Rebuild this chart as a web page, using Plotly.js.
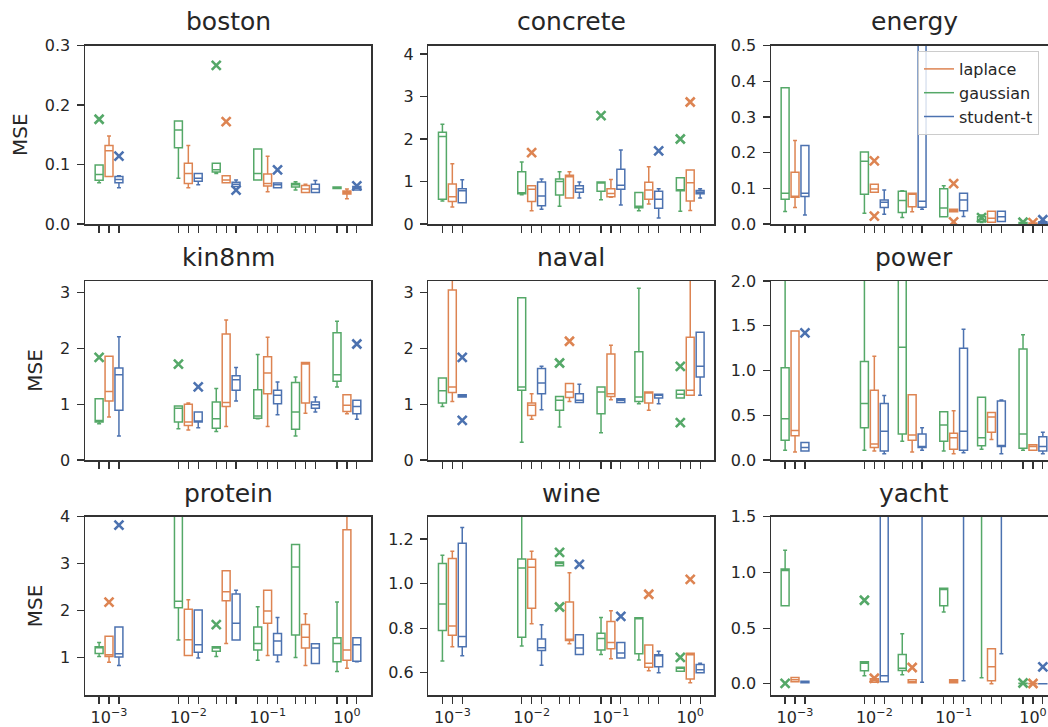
<!DOCTYPE html>
<html><head><meta charset="utf-8">
<script src="https://cdn.plot.ly/plotly-3.0.1.min.js"></script>
<style>html,body{margin:0;padding:0;background:#fff}</style>
</head><body><div id="chart" style="width:1048px;height:727px"></div>
<script>
// ---------------- DATA ----------------
const noiseLevels = [0.001, 0.01, 0.03, 0.1, 0.3, 1];
const decadeLabels = {'-3':'10<sup>−3</sup>','-2':'10<sup>−2</sup>','-1':'10<sup>−1</sup>','0':'10<sup>0</sup>'};
const seriesNames = ['laplace', 'gaussian', 'student-t'];
const datasetNames = ['boston','concrete','energy','kin8nm','naval','power','protein','wine','yacht'];

// each entry: [lower whisker, q1, median, q3, upper whisker] per noise level
const boston_laplace  = [[0.080,0.080,0.123,0.132,0.148],[0.061,0.068,0.085,0.102,0.132],[0.0695,0.0695,0.074,0.081,0.081],[0.054,0.064,0.068,0.084,0.114],[0.053,0.053,0.059,0.0645,0.067],[0.0425,0.0505,0.053,0.0555,0.059]];
const boston_gaussian = [[0.0695,0.0735,0.083,0.0993,0.0993],[0.077,0.128,0.158,0.173,0.173],[0.085,0.0875,0.091,0.102,0.102],[0.074,0.074,0.085,0.126,0.126],[0.057,0.062,0.066,0.068,0.071],[0.0595,0.0598,0.061,0.062,0.062]];
const boston_student  = [[0.061,0.0695,0.075,0.0797,0.081],[0.066,0.072,0.077,0.085,0.085],[0.063,0.063,0.067,0.070,0.074],[0.061,0.061,0.066,0.069,0.069],[0.053,0.053,0.059,0.067,0.073],[0.057,0.057,0.060,0.063,0.063]];
const boston_out_laplace  = [[2,0.172]];
const boston_out_gaussian = [[0,0.176],[2,0.2665]];
const boston_out_student  = [[0,0.114],[2,0.057],[3,0.091],[5,0.064]];

const concrete_laplace  = [[0.40,0.53,0.64,0.94,1.42],[0.31,0.53,0.82,0.90,0.90],[0.61,0.61,1.11,1.15,1.23],[0.63,0.64,0.72,0.83,1.05],[0.47,0.58,0.80,0.98,1.35],[0.32,0.54,0.97,1.27,1.27]];
const concrete_gaussian = [[0.54,0.58,2.06,2.16,2.35],[0.69,0.71,0.72,1.23,1.46],[0.42,0.68,1.00,1.06,1.23],[0.57,0.77,0.99,0.99,0.99],[0.31,0.38,0.42,0.74,0.74],[0.30,0.78,0.80,1.09,1.09]];
const concrete_student  = [[0.50,0.50,0.78,0.83,1.04],[0.35,0.43,0.66,0.99,1.06],[0.61,0.75,0.83,0.90,0.99],[0.45,0.82,0.91,1.29,1.74],[0.14,0.37,0.58,0.77,0.83],[0.61,0.71,0.75,0.79,0.83]];
const concrete_out_laplace  = [[1,1.68],[5,2.87]];
const concrete_out_gaussian = [[3,2.55],[5,2.0]];
const concrete_out_student  = [[4,1.72]];

const energy_laplace  = [[0.046,0.075,0.077,0.145,0.234],[0.089,0.089,0.098,0.111,0.111],[0.034,0.048,0.083,0.086,0.086],[0.034,0.034,0.037,0.041,0.041],[0.005,0.005,0.016,0.036,0.036],[0.001,0.002,0.002,0.003,0.003]];
const energy_gaussian = [[0.035,0.069,0.086,0.382,0.382],[0.030,0.083,0.176,0.202,0.202],[0.018,0.032,0.066,0.092,0.093],[0.020,0.020,0.045,0.099,0.107],[0.004,0.006,0.012,0.020,0.025],[0.001,0.002,0.003,0.004,0.005]];
const energy_student  = [[0.025,0.077,0.086,0.220,0.220],[0.027,0.046,0.061,0.067,0.095],[0.041,0.047,0.064,0.800,1.200],[0.021,0.037,0.067,0.086,0.086],[0.007,0.007,0.020,0.036,0.036],[0.002,0.003,0.004,0.006,0.008]];
const energy_out_laplace  = [[1,0.177],[1,0.022],[3,0.113],[3,0.006],[5,0.004]];
const energy_out_gaussian = [[4,0.018],[5,0.005]];
const energy_out_student  = [[5,0.012]];

const kin8nm_laplace  = [[0.77,1.06,1.23,1.86,1.86],[0.54,0.62,0.68,1.00,1.02],[0.60,0.96,1.03,2.26,2.51],[0.60,1.19,1.56,1.85,2.20],[0.84,1.02,1.72,1.75,1.75],[0.83,0.87,0.98,1.17,1.17]];
const kin8nm_gaussian = [[0.65,0.68,0.71,1.10,1.10],[0.56,0.68,0.93,0.97,0.97],[0.51,0.57,0.74,1.04,1.28],[0.74,0.75,0.79,1.26,1.89],[0.43,0.55,0.86,1.39,1.49],[1.31,1.41,1.53,2.28,2.49]];
const kin8nm_student  = [[0.43,0.89,1.53,1.65,2.21],[0.58,0.68,0.68,0.86,0.86],[1.06,1.25,1.44,1.51,1.66],[0.81,1.01,1.16,1.25,1.40],[0.86,0.93,0.99,1.04,1.13],[0.73,0.83,0.96,1.07,1.07]];
const kin8nm_out_laplace  = [];
const kin8nm_out_gaussian = [[0,1.84],[1,1.72]];
const kin8nm_out_student  = [[1,1.31],[5,2.08]];

const naval_laplace  = [[1.05,1.21,1.31,3.05,3.40],[0.73,0.80,0.98,1.02,1.19],[1.05,1.12,1.22,1.37,1.37],[1.08,1.14,1.19,1.90,2.06],[0.89,1.02,1.22,1.22,1.22],[1.16,1.16,1.25,2.20,3.40]];
const naval_gaussian = [[0.96,1.02,1.24,1.47,1.47],[0.32,1.25,1.31,2.91,2.91],[0.59,0.89,1.07,1.14,1.14],[0.49,0.83,1.22,1.31,1.31],[1.01,1.05,1.13,1.94,3.08],[1.11,1.11,1.18,1.25,1.25]];
const naval_student  = [[1.13,1.13,1.15,1.17,1.17],[0.90,1.19,1.38,1.64,1.68],[1.03,1.03,1.07,1.19,1.36],[1.03,1.03,1.07,1.10,1.10],[1.01,1.11,1.16,1.18,1.18],[1.16,1.49,1.68,2.29,2.29]];
const naval_out_laplace  = [[2,2.13]];
const naval_out_gaussian = [[2,1.74],[5,1.68],[5,0.67]];
const naval_out_student  = [[0,1.84],[0,0.71]];

const power_laplace  = [[0.09,0.27,0.33,1.44,1.44],[0.10,0.14,0.18,0.78,1.16],[0.09,0.22,0.28,0.73,0.73],[0.07,0.12,0.25,0.30,0.55],[0.23,0.31,0.48,0.53,0.53],[0.11,0.11,0.15,0.17,0.17]];
const power_gaussian = [[0.11,0.22,0.46,1.03,2.30],[0.11,0.36,0.63,1.10,2.30],[0.21,0.29,1.26,2.40,2.60],[0.10,0.21,0.39,0.54,0.54],[0.12,0.16,0.25,0.70,0.70],[0.11,0.13,0.29,1.24,1.40]];
const power_student  = [[0.10,0.10,0.14,0.195,0.195],[0.07,0.10,0.32,0.63,0.72],[0.11,0.14,0.14,0.29,0.36],[0.08,0.11,0.32,1.25,1.46],[0.07,0.15,0.16,0.66,0.67],[0.07,0.10,0.15,0.26,0.31]];
const power_out_laplace  = [];
const power_out_gaussian = [];
const power_out_student  = [[0,1.42]];

const protein_laplace  = [[0.90,1.02,1.06,1.45,1.45],[1.04,1.04,1.38,2.03,2.23],[1.30,2.21,2.40,2.85,2.85],[1.04,1.73,1.99,2.43,2.43],[0.83,1.20,1.43,1.70,1.93],[0.77,0.94,1.16,3.72,4.30]];
const protein_gaussian = [[1.02,1.085,1.21,1.23,1.32],[1.37,2.06,2.20,4.50,5.00],[1.02,1.13,1.20,1.23,1.23],[0.94,1.16,1.30,1.65,2.08],[1.00,1.48,2.93,3.41,3.41],[0.70,0.91,1.30,1.42,2.18]];
const protein_student  = [[0.83,1.01,1.08,1.65,1.65],[0.99,1.11,1.27,2.01,2.01],[1.37,1.37,1.73,2.35,2.43],[0.91,1.05,1.35,1.51,1.85],[0.87,0.87,1.20,1.29,1.29],[0.91,0.92,1.27,1.42,1.42]];
const protein_out_laplace  = [[0,2.18]];
const protein_out_gaussian = [[2,1.70]];
const protein_out_student  = [[0,3.82]];

const wine_laplace  = [[0.717,0.768,0.810,1.112,1.145],[0.820,0.889,1.073,1.109,1.145],[0.730,0.744,0.750,0.917,1.049],[0.663,0.708,0.736,0.830,0.878],[0.609,0.624,0.643,0.724,0.724],[0.555,0.572,0.681,0.687,0.687]];
const wine_gaussian = [[0.652,0.789,0.908,1.090,1.127],[0.720,0.759,1.070,1.110,1.400],[1.080,1.080,1.090,1.097,1.097],[0.682,0.702,0.754,0.777,0.848],[0.657,0.685,0.845,0.847,0.847],[0.607,0.607,0.621,0.625,0.625]];
const wine_student  = [[0.676,0.717,0.762,1.181,1.252],[0.633,0.700,0.712,0.751,0.815],[0.682,0.682,0.711,0.770,0.770],[0.666,0.666,0.688,0.735,0.735],[0.600,0.627,0.676,0.681,0.696],[0.600,0.600,0.613,0.637,0.643]];
const wine_out_laplace  = [[4,0.952],[5,1.019]];
const wine_out_gaussian = [[2,1.14],[2,0.895],[5,0.669]];
const wine_out_student  = [[2,1.086],[3,0.853]];

const yacht_laplace  = [[0.018,0.018,0.036,0.057,0.057],[0.015,0.015,0.030,0.045,0.045],[0.009,0.009,0.020,0.036,0.036],[0.009,0.009,0.024,0.036,0.036],[0.000,0.027,0.153,0.315,0.315],[0.000,0.001,0.002,0.003,0.003]];
const yacht_gaussian = [[0.700,0.700,1.017,1.030,1.200],[0.072,0.117,0.186,0.198,0.198],[0.081,0.120,0.141,0.264,0.450],[0.645,0.700,0.846,0.858,0.858],[0.054,2.0,3.0,4.0,5.0],[0.003,0.004,0.005,0.006,0.007]];
const yacht_student  = [[0.009,0.009,0.015,0.024,0.024],[0.018,0.018,0.072,3.0,4.0],[0.015,2.0,3.0,4.0,5.0],[0.027,2.0,3.0,4.0,5.0],[0.270,2.0,3.0,4.0,5.0],[0.000,0.000,0.000,0.001,0.001]];
const yacht_out_laplace  = [[1,0.050],[2,0.147],[5,0.003]];
const yacht_out_gaussian = [[0,0.005],[1,0.75],[5,0.008]];
const yacht_out_student  = [[5,0.153]];

// ---------------- STYLE / LAYOUT ----------------
const colors = {'laplace':'#DD8452','gaussian':'#55A868','student-t':'#4C72B0'};
const posFactor = {'laplace':1, 'gaussian':0.75, 'student-t':4/3};
const W = 1048, H = 727;
const colLeft = [85, 428.3, 771];
const panelW = 286;
const rowTop = [45.5, 281, 516.7];
const rowBot = [224, 460, 695];
const xMin = -3.303, pxPerDecade = 79.3;
const yAxes = {
  boston:{range:[0,0.3],dtick:0.1,tick0:0,fmt:'.1f'},
  concrete:{range:[0,4.2],dtick:1,tick0:0,fmt:'d'},
  energy:{range:[0,0.5],dtick:0.1,tick0:0,fmt:'.1f'},
  kin8nm:{range:[0,3.21],dtick:1,tick0:0,fmt:'d'},
  naval:{range:[0,3.21],dtick:1,tick0:0,fmt:'d'},
  power:{range:[0,2.0],dtick:0.5,tick0:0,fmt:'.1f'},
  protein:{range:[0.2,4.0],dtick:1,tick0:0,fmt:'d'},
  wine:{range:[0.5,1.3],dtick:0.2,tick0:0.6,fmt:'.1f'},
  yacht:{range:[-0.1,1.5],dtick:0.5,tick0:0,fmt:'.1f'}
};
const dataMap = {
  boston:[boston_laplace,boston_gaussian,boston_student,boston_out_laplace,boston_out_gaussian,boston_out_student],
  concrete:[concrete_laplace,concrete_gaussian,concrete_student,concrete_out_laplace,concrete_out_gaussian,concrete_out_student],
  energy:[energy_laplace,energy_gaussian,energy_student,energy_out_laplace,energy_out_gaussian,energy_out_student],
  kin8nm:[kin8nm_laplace,kin8nm_gaussian,kin8nm_student,kin8nm_out_laplace,kin8nm_out_gaussian,kin8nm_out_student],
  naval:[naval_laplace,naval_gaussian,naval_student,naval_out_laplace,naval_out_gaussian,naval_out_student],
  power:[power_laplace,power_gaussian,power_student,power_out_laplace,power_out_gaussian,power_out_student],
  protein:[protein_laplace,protein_gaussian,protein_student,protein_out_laplace,protein_out_gaussian,protein_out_student],
  wine:[wine_laplace,wine_gaussian,wine_student,wine_out_laplace,wine_out_gaussian,wine_out_student],
  yacht:[yacht_laplace,yacht_gaussian,yacht_student,yacht_out_laplace,yacht_out_gaussian,yacht_out_student]
};

const textColor = '#262626', lineColor = '#333333';
const pos = (i, s) => Math.log10(noiseLevels[i]) + Math.log10(posFactor[s]);

const traces = [];
const layout = {
  width: W, height: H, margin:{l:0,r:0,t:0,b:0},
  paper_bgcolor:'#fff', plot_bgcolor:'#fff',
  font:{family:'DejaVu Sans', color:textColor, size:16},
  showlegend:true, boxmode:'overlay',
  legend:{x:918/W, y:1-51/H, xanchor:'left', yanchor:'top', bgcolor:'rgba(255,255,255,0.8)',
          bordercolor:'#cccccc', borderwidth:1, font:{size:16}, traceorder:'normal'},
  annotations:[]
};

// major ticks (labelled) at decades; minor ticks at the other box positions
const allVals = [], majorVals = [], majorText = [], minorVals = [];
noiseLevels.forEach((v,i) => seriesNames.forEach(s => {
  const lg = Math.log10(v);
  allVals.push(pos(i,s));
  if (s==='laplace' && Math.abs(lg-Math.round(lg))<1e-9) {
    majorVals.push(pos(i,s)); majorText.push(decadeLabels[String(Math.round(lg))]);
  } else minorVals.push(pos(i,s));
}));

datasetNames.forEach((name, k) => {
  const r = Math.floor(k/3), c = k%3, n = k+1;
  const xa = 'x'+(n===1?'':n), ya = 'y'+(n===1?'':n);
  const left = colLeft[c], right = Math.min(left+panelW, W);
  const xmax = xMin + (right-left)/pxPerDecade;
  const ycfg = yAxes[name];
  const labelled = r===2;
  const xaxis = {
    domain:[left/W, right/W], range:[xMin, xmax], anchor:ya,
    tickmode:'array', tickvals: labelled ? majorVals : [], ticktext: labelled ? majorText : [],
    ticks:'outside', ticklen:7, tickwidth:1.25, tickcolor:lineColor,
    minor:{tickmode:'array', tickvals: labelled ? minorVals : allVals, ticks:'outside', ticklen:7, tickwidth:1.25, tickcolor:lineColor, showgrid:false},
    showline:true, linecolor:lineColor, linewidth:1.5, mirror:true,
    showgrid:false, zeroline:false, tickfont:{size:16}
  };
  layout['xaxis'+(n===1?'':n)] = xaxis;
  const yaxis = {
    domain:[1-rowBot[r]/H, 1-rowTop[r]/H], range:ycfg.range, anchor:xa,
    tickmode:'linear', tick0:ycfg.tick0, dtick:ycfg.dtick, tickformat:ycfg.fmt,
    ticks:'outside', ticklen:7, tickwidth:1.25, tickcolor:lineColor, ticklabelstandoff:3,
    showline:true, linecolor:lineColor, linewidth:1.5, mirror:c<2,
    showgrid:false, zeroline:false, tickfont:{size:16}
  };
  if (c===0) yaxis.title = {text:'MSE', font:{size:20}, standoff:12};
  layout['yaxis'+(n===1?'':n)] = yaxis;
  layout.annotations.push({text:name, xref:'paper', yref:'paper', x:(left+panelW/2)/W, y:1-rowTop[r]/H,
    xanchor:'center', yanchor:'bottom', yshift:7, showarrow:false, font:{size:25, color:textColor}});

  const d = dataMap[name];
  seriesNames.forEach((s, si) => {
    const stats = d[si], outs = d[3+si];
    traces.push({
      type:'box', orientation:'v', xaxis:xa, yaxis:ya, name:s, showlegend:false,
      x: stats.map((_,i)=>pos(i,s)),
      lowerfence: stats.map(v=>v[0]), q1: stats.map(v=>v[1]), median: stats.map(v=>v[2]),
      q3: stats.map(v=>v[3]), upperfence: stats.map(v=>v[4]),
      width:0.1, whiskerwidth:0.5, boxpoints:false,
      line:{color:colors[s], width:1.5}, fillcolor:'rgba(0,0,0,0)', hoverinfo:'skip'
    });
    if (outs.length) traces.push({
      type:'scatter', mode:'markers', xaxis:xa, yaxis:ya, showlegend:false, hoverinfo:'skip',
      x: outs.map(o=>pos(o[0],s)), y: outs.map(o=>o[1]),
      marker:{symbol:'x-thin', size:9, color:colors[s], line:{color:colors[s], width:2.6}}
    });
  });
});

// legend entries (line samples)
seriesNames.forEach(s => traces.push({type:'scatter', mode:'lines', x:[null], y:[null], xaxis:'x3', yaxis:'y3',
  name:s, showlegend:true, line:{color:colors[s], width:1.5}, hoverinfo:'skip'}));

Plotly.newPlot('chart', traces, layout, {staticPlot:true});
</script></body></html>
